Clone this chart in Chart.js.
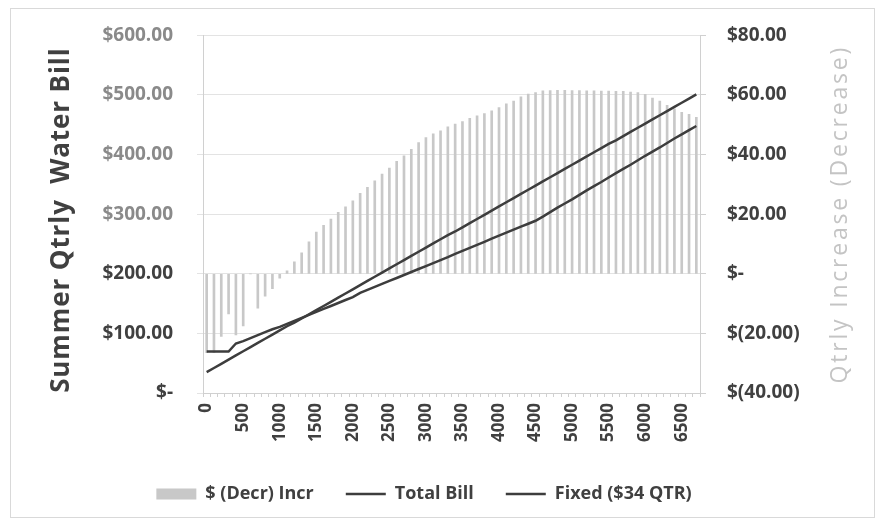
<!DOCTYPE html>
<html>
<head>
<meta charset="utf-8">
<script src="https://cdn.jsdelivr.net/npm/chart.js@4.4.1/dist/chart.umd.min.js"></script>
<style>
  html, body { margin: 0; padding: 0; background: #fff; }
  #wrap { width: 885px; height: 527px; position: relative; }
</style>
</head>
<body>
<div id="wrap"><canvas id="waterChart"></canvas></div>
<script>
// gallons per quarter
const usage = ['0','100','200','300','400','500','600','700','800','900',
  '1000','1100','1200','1300','1400','1500','1600','1700','1800','1900',
  '2000','2100','2200','2300','2400','2500','2600','2700','2800','2900',
  '3000','3100','3200','3300','3400','3500','3600','3700','3800','3900',
  '4000','4100','4200','4300','4400','4500','4600','4700','4800','4900',
  '5000','5100','5200','5300','5400','5500','5600','5700','5800','5900',
  '6000','6100','6200','6300','6400','6500','6600','6700'];

// $ (Decr) Incr - right axis
const changeAmt = [-26.5, -26.5, -21, -13.5, -20.5, -17.5, 0, -11.5, -7.5, -5,
  -1.5, 1, 4, 7, 10.7, 14, 16.3, 18.4, 20.6, 22.5,
  24.5, 27, 29, 31.2, 33.5, 35.5, 37.7, 39.6, 41.8, 44,
  45.7, 47, 48, 49.3, 50.2, 51.1, 52.2, 53, 53.8, 54.7,
  55.8, 57, 58, 59.4, 60.3, 60.8, 61.4, 61.5, 61.6, 61.6,
  61.5, 61.5, 61.4, 61.4, 61.3, 61.3, 61.2, 61.2, 61, 60.8,
  60.2, 59, 58, 56.5, 55.4, 54.2, 53.5, 52.5];

// Total Bill - left axis
const totalBill = [35, 42, 49, 56, 63, 70, 77, 84, 91, 98,
  105, 112, 118, 125, 132, 139, 146, 153, 160, 167,
  174, 181, 188, 195, 202, 209, 216, 223, 230, 237,
  244, 251, 258, 265, 271, 278, 285, 292, 299, 306,
  313, 320, 327, 334, 341, 348, 355, 362, 369, 376,
  383, 390, 397, 404, 411, 418, 424, 431, 438, 445,
  452, 459, 466, 473, 480, 487, 494, 501];

// Fixed ($34 QTR) - left axis
const fixedBill = [69.5, 69.5, 69.5, 69.5, 83, 87, 92, 97, 102, 107,
  111, 116, 121, 126, 131, 136, 141, 146, 151, 156,
  161, 168, 173, 178, 183, 188, 193, 198, 203, 208,
  213, 218, 223, 228, 233.5, 238.5, 243.5, 248.5, 253.5, 259,
  264, 269, 274, 279, 284, 289, 296, 303.5, 311, 318,
  325, 332.5, 340, 347, 354, 361.5, 369, 376, 383, 390.5,
  398, 405, 412, 419.5, 427, 434, 441, 448];

const billTicks = [0, 100, 200, 300, 400, 500, 600];
const changeTicks = [-40, -20, 0, 20, 40, 60, 80];

const FONT = 'Open Sans';
const DARK = '#404040';

function axisTitle(ctx, text, x, y, font, spacing, color) {
  ctx.save();
  ctx.translate(x, y);
  ctx.rotate(-Math.PI / 2);
  ctx.font = font;
  ctx.letterSpacing = spacing;
  ctx.fillStyle = color;
  ctx.textAlign = 'center';
  ctx.textBaseline = 'middle';
  ctx.fillText(text, 0, 0);
  ctx.restore();
}

// outer frame + both axis titles (drawn by hand for letter spacing)
const frame = {
  id: 'frame',
  beforeDraw(chart) {
    const ctx = chart.ctx;
    ctx.save();
    ctx.strokeStyle = '#d9d9d9';
    ctx.lineWidth = 1;
    ctx.strokeRect(10.5, 8.5, 864, 509);
    ctx.restore();
  },
  afterLayout(chart) {
    // legend sits a bit left of centre in the original
    chart.legend.left -= 27;
    chart.legend.right -= 27;
  },
  afterDraw(chart) {
    const ctx = chart.ctx;
    const mid = (chart.chartArea.top + chart.chartArea.bottom) / 2;
    axisTitle(ctx, 'Summer Qtrly  Water Bill', 62, mid + 6, 'bold 26px "' + FONT + '"', '0.9px', DARK);
    axisTitle(ctx, 'Qtrly Increase (Decrease)', 840, mid, '23px "' + FONT + '"', '2.8px', '#c4c4c4');
  }
};

function money(v) {
  if (v === 0) return '$-';
  if (v < 0) return '$(' + (-v).toFixed(2) + ')';
  return '$' + v.toFixed(2);
}

const ctx = document.getElementById('waterChart').getContext('2d');
new Chart(ctx, {
  type: 'bar',
  data: {
    labels: usage,
    datasets: [{
      type: 'bar',
      label: '$ (Decr) Incr',
      data: changeAmt,
      yAxisID: 'y1',
      backgroundColor: '#c8c8c8',
      borderWidth: 0,
      barThickness: 2,
      pointStyle: 'rect',
      order: 2
    }, {
      type: 'line',
      label: 'Total Bill',
      data: totalBill,
      yAxisID: 'y',
      borderColor: '#3d3d3d',
      borderWidth: 2.5,
      pointRadius: 0,
      pointStyle: 'line',
      pointBorderColor: '#3d3d3d',
      pointBorderWidth: 2.5,
      tension: 0,
      order: 1
    }, {
      type: 'line',
      label: 'Fixed ($34 QTR)',
      data: fixedBill,
      yAxisID: 'y',
      borderColor: '#3d3d3d',
      borderWidth: 2.5,
      pointRadius: 0,
      pointStyle: 'line',
      pointBorderColor: '#3d3d3d',
      pointBorderWidth: 2.5,
      tension: 0,
      order: 1
    }]
  },
  options: {
    responsive: true,
    maintainAspectRatio: false,
    animation: false,
    layout: { padding: { left: 44, right: 27, top: 35, bottom: 14 } },
    plugins: {
      tooltip: { enabled: false },
      legend: {
        position: 'bottom',
        labels: {
          usePointStyle: true,
          pointStyleWidth: 40,
          boxWidth: 40,
          boxHeight: 11,
          padding: 32,
          color: DARK,
          font: { family: FONT, size: 18, weight: 'bold' },
          sort: (a, b) => a.datasetIndex - b.datasetIndex
        }
      }
    },
    scales: {
      x: {
        offset: true,
        grid: { drawOnChartArea: false, drawTicks: true, tickLength: 4, color: '#d0d0d0' },
        border: { color: '#d0d0d0' },
        ticks: {
          autoSkip: false,
          maxRotation: 90,
          minRotation: 90,
          padding: 6,
          color: DARK,
          font: { family: FONT, size: 17, weight: 'bold' },
          callback: function (v, i) { return i % 5 === 0 ? usage[i] : ''; }
        },
        afterFit: function (s) { s.height = 60; }
      },
      y: {
        position: 'left',
        min: 0,
        max: 600,
        afterBuildTicks: function (s) { s.ticks = billTicks.map(v => ({ value: v })); },
        grid: { color: '#e3e3e3', tickLength: 6 },
        border: { color: '#d0d0d0' },
        ticks: {
          padding: 24,
          color: c => c.tick.value >= 300 ? '#8a8a8a' : DARK,
          font: { family: FONT, size: 19, weight: 'bold' },
          callback: v => money(v)
        },
        afterFit: function (s) { s.width = 159; }
      },
      y1: {
        position: 'right',
        min: -40,
        max: 80,
        afterBuildTicks: function (s) { s.ticks = changeTicks.map(v => ({ value: v })); },
        grid: { drawOnChartArea: false, tickLength: 6, color: '#d0d0d0' },
        border: { color: '#d0d0d0' },
        ticks: {
          padding: 21,
          color: DARK,
          font: { family: FONT, size: 19, weight: 'bold' },
          callback: v => money(v)
        },
        afterFit: function (s) { s.width = 158; }
      }
    }
  },
  plugins: [frame]
});
</script>
</body>
</html>
